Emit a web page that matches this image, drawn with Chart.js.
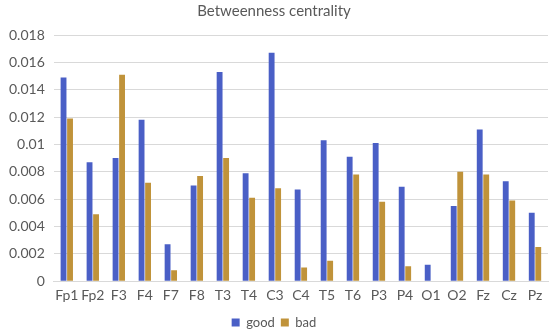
<!DOCTYPE html>
<html>
<head>
<meta charset="utf-8">
<script src="https://cdn.jsdelivr.net/npm/chart.js@4"></script>
<style>
  body { margin: 0; background: #fff; }
  #wrap { width: 550px; height: 335px; }
</style>
</head>
<body>
<div id="wrap"><canvas id="chart" width="550" height="335"></canvas></div>
<script>
// Electrode channels
const channels = ['Fp1', 'Fp2', 'F3', 'F4', 'F7', 'F8', 'T3', 'T4', 'C3', 'C4',
                  'T5', 'T6', 'P3', 'P4', 'O1', 'O2', 'Fz', 'Cz', 'Pz'];

// Betweenness centrality per group
const goodValues = [0.0149, 0.0087, 0.0090, 0.0118, 0.0027, 0.0070, 0.0153, 0.0079, 0.0167, 0.0067,
                    0.0103, 0.0091, 0.0101, 0.0069, 0.0012, 0.0055, 0.0111, 0.0073, 0.0050];
const badValues  = [0.0119, 0.0049, 0.0151, 0.0072, 0.0008, 0.0077, 0.0090, 0.0061, 0.0068, 0.0010,
                    0.0015, 0.0078, 0.0058, 0.0011, 0.0000, 0.0080, 0.0078, 0.0059, 0.0025];

const yMax = 0.018;
const yStep = 0.002;

const textColor = '#595959';
const fontFamily = 'Lato, "Open Sans", sans-serif';

const ctx = document.getElementById('chart').getContext('2d');
new Chart(ctx, {
    type: 'bar',
    data: {
        labels: channels,
        datasets: [{
            label: 'good',
            data: goodValues,
            backgroundColor: '#4a5fc6',
            categoryPercentage: 0.5,
            barPercentage: 0.9
        }, {
            label: 'bad',
            data: badValues,
            backgroundColor: '#c0933a',
            categoryPercentage: 0.5,
            barPercentage: 0.9
        }]
    },
    options: {
        responsive: false,
        animation: false,
        layout: {
            // legend box has extra space below the items, let it hang off the canvas a bit
            padding: { left: 0, right: 2, top: 0, bottom: -4 }
        },
        plugins: {
            title: {
                display: true,
                text: 'Betweenness centrality',
                color: textColor,
                font: { family: fontFamily, size: 15, weight: 'normal' },
                padding: { top: 2, bottom: 15 }
            },
            legend: {
                position: 'bottom',
                labels: {
                    color: textColor,
                    font: { family: fontFamily, size: 13 },
                    boxWidth: 8,
                    boxHeight: 8,
                    padding: 6
                }
            },
            tooltip: { enabled: false }
        },
        scales: {
            x: {
                grid: { display: false, drawTicks: false },
                border: { color: '#d9d9d9' },
                ticks: {
                    color: textColor,
                    font: { family: fontFamily, size: 14 },
                    padding: 6,
                    maxRotation: 0,
                    autoSkip: false
                }
            },
            y: {
                min: 0,
                max: yMax,
                grid: { color: '#d9d9d9', drawTicks: false },
                border: { display: false },
                ticks: {
                    stepSize: yStep,
                    color: textColor,
                    font: { family: fontFamily, size: 14 },
                    padding: 9,
                    callback: function(value) {
                        return String(Number(value.toFixed(3)));
                    }
                }
            }
        }
    }
});
</script>
</body>
</html>
